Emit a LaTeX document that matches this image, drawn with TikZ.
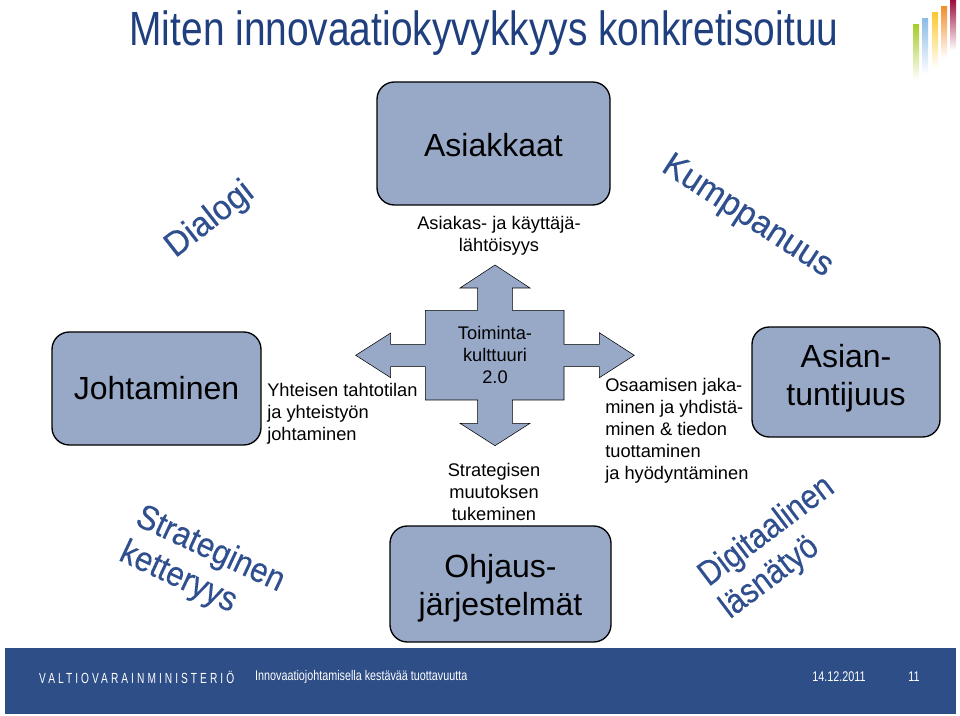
\documentclass[tikz,border=0pt]{standalone}
\usepackage{fontspec}
\setmainfont{Liberation Sans}
\usepackage{tikz}
\usetikzlibrary{positioning}
\definecolor{boxfill}{HTML}{98A9C8}
\definecolor{titleblue}{HTML}{1F3F7F}
\definecolor{wordblue}{HTML}{2F4F8F}
\definecolor{footblue}{HTML}{2E4E87}
\definecolor{bargreen}{HTML}{A8CC2C}
\definecolor{barblue}{HTML}{8DBDE8}
\definecolor{baryellow}{HTML}{FBC933}
\definecolor{barorange}{HTML}{F09030}
\definecolor{barred}{HTML}{A01040}
\begin{document}
\begin{tikzpicture}[x=0.75pt,y=-0.75pt]
\tikzstyle{block}=[draw=black,fill=boxfill,line width=1pt,rounded corners=13pt,outer sep=0pt,inner sep=0pt]
\tikzstyle{blocktext}=[align=center,inner sep=0pt,font=\fontsize{24}{28.5}\selectfont]
\tikzstyle{caption}=[align=left,inner sep=0pt,font=\fontsize{13.7}{16.5}\selectfont]
\tikzstyle{slanted}=[inner sep=0pt,text=wordblue,font=\fontsize{26}{29}\selectfont\addfontfeature{FakeBold=0.2}]
\tikzstyle{foot}=[inner sep=0pt,text=white,xscale=0.77,font=\fontsize{10.5}{12}\selectfont]

\useasboundingbox (0,0) rectangle (960,716);
\fill[white] (0,0) rectangle (960,716);

\node (title) at (484,33) [inner sep=0pt,text=titleblue,xscale=0.81,font=\fontsize{36}{40}\selectfont] {Miten innovaatiokyvykkyys konkretisoituu};

% bars
\shade[top color=bargreen,middle color=bargreen!70,bottom color=white] (913,25) rectangle (919,80);
\shade[top color=barblue,middle color=barblue!70,bottom color=white] (922,19) rectangle (928,74);
\shade[top color=baryellow,middle color=baryellow!70,bottom color=white] (932,13) rectangle (938,68);
\shade[top color=barorange,middle color=barorange!70,bottom color=white] (941,7) rectangle (947,58);
\shade[top color=barred,middle color=barred!70,bottom color=white] (950,1) rectangle (956,50);

\node (asiakkaat) at (493.5,143.5) [block,minimum width=174.75pt,minimum height=92.25pt,label={[blocktext,yshift=-1pt]center:{Asiakkaat}}] {};
\node (johtaminen) at (156.5,388.5) [block,minimum width=156.75pt,minimum height=84.75pt,label={[blocktext]center:{Johtaminen}}] {};
\node (asiantuntijuus) at (846,382) [block,minimum width=141pt,minimum height=82.5pt,label={[blocktext,yshift=3pt]center:{Asian-\\tuntijuus}}] {};
\node (ohjaus) at (500.5,584) [block,minimum width=165.75pt,minimum height=87pt,label={[blocktext,yshift=-3pt]center:{Ohjaus-\\järjestelmät}}] {};

\draw[draw=black,fill=boxfill] (495,265) -- (530,288) -- (512.3,288) -- (512.3,310.3) -- (564,310.3) -- (564,344.3) -- (599.3,344.3) -- (599.3,332.7) -- (634.3,355.3) -- (599.3,377.7) -- (599.3,366.7) -- (564,366.7) -- (564,400) -- (512.3,400) -- (512.3,423.3) -- (530,423.3) -- (495,445.7) -- (460,423.3) -- (477.7,423.3) -- (477.7,400) -- (425.3,400) -- (425.3,366.7) -- (390.7,366.7) -- (390.7,377.7) -- (355.7,355.3) -- (390.7,333) -- (390.7,344.3) -- (425.3,344.3) -- (425.3,310.3) -- (477.7,310.3) -- (477.7,288) -- (460,288) -- cycle;

\node (kulttuuri) at (495,355) [caption,align=center] {Toiminta-\\kulttuuri\\2.0};
\node (asiakas) at (499,236) [caption,align=center] {Asiakas- ja käyttäjä-\\lähtöisyys};
\node (tahtotila) at (267,414) [caption,anchor=west] {Yhteisen tahtotilan\\ja yhteistyön\\johtaminen};
\node (osaaminen) at (605,431) [caption,anchor=west] {Osaamisen jaka-\\minen ja yhdistä-\\minen \& tiedon\\tuottaminen\\ja hyödyntäminen};
\node (strategia) at (494,492) [caption,align=center] {Strategisen\\muutoksen\\tukeminen};

\node (dialogi) at (210,220) [slanted,rotate=38,xscale=0.96] {Dialogi};
\node (kumppanuus) at (747,217) [slanted,rotate=-33,xscale=0.96] {Kumppanuus};
\node (strateginen) at (210,550) [slanted,rotate=-25,xscale=0.9] {Strateginen};
\node (ketteryys) at (178,578) [slanted,rotate=-25,xscale=0.9] {ketteryys};
\node (digitaalinen) at (767,532) [slanted,rotate=37,xscale=0.88] {Digitaalinen};
\node (lasnatyo) at (770,578) [slanted,rotate=37,xscale=0.88] {läsnätyö};

\fill[footblue] (5,648) rectangle (955.5,714);
\node (vm) at (39,677) [foot,anchor=west,xscale=0.9,font=\fontsize{11}{12}\selectfont] {\addfontfeature{LetterSpace=30}VALTIOVARAINMINISTERIÖ};
\node (aihe) at (255,677) [foot,anchor=west] {Innovaatiojohtamisella kestävää tuottavuutta};
\node (pvm) at (839,677) [foot] {14.12.2011};
\node (sivu) at (914,677) [foot] {11};
\end{tikzpicture}
\end{document}
